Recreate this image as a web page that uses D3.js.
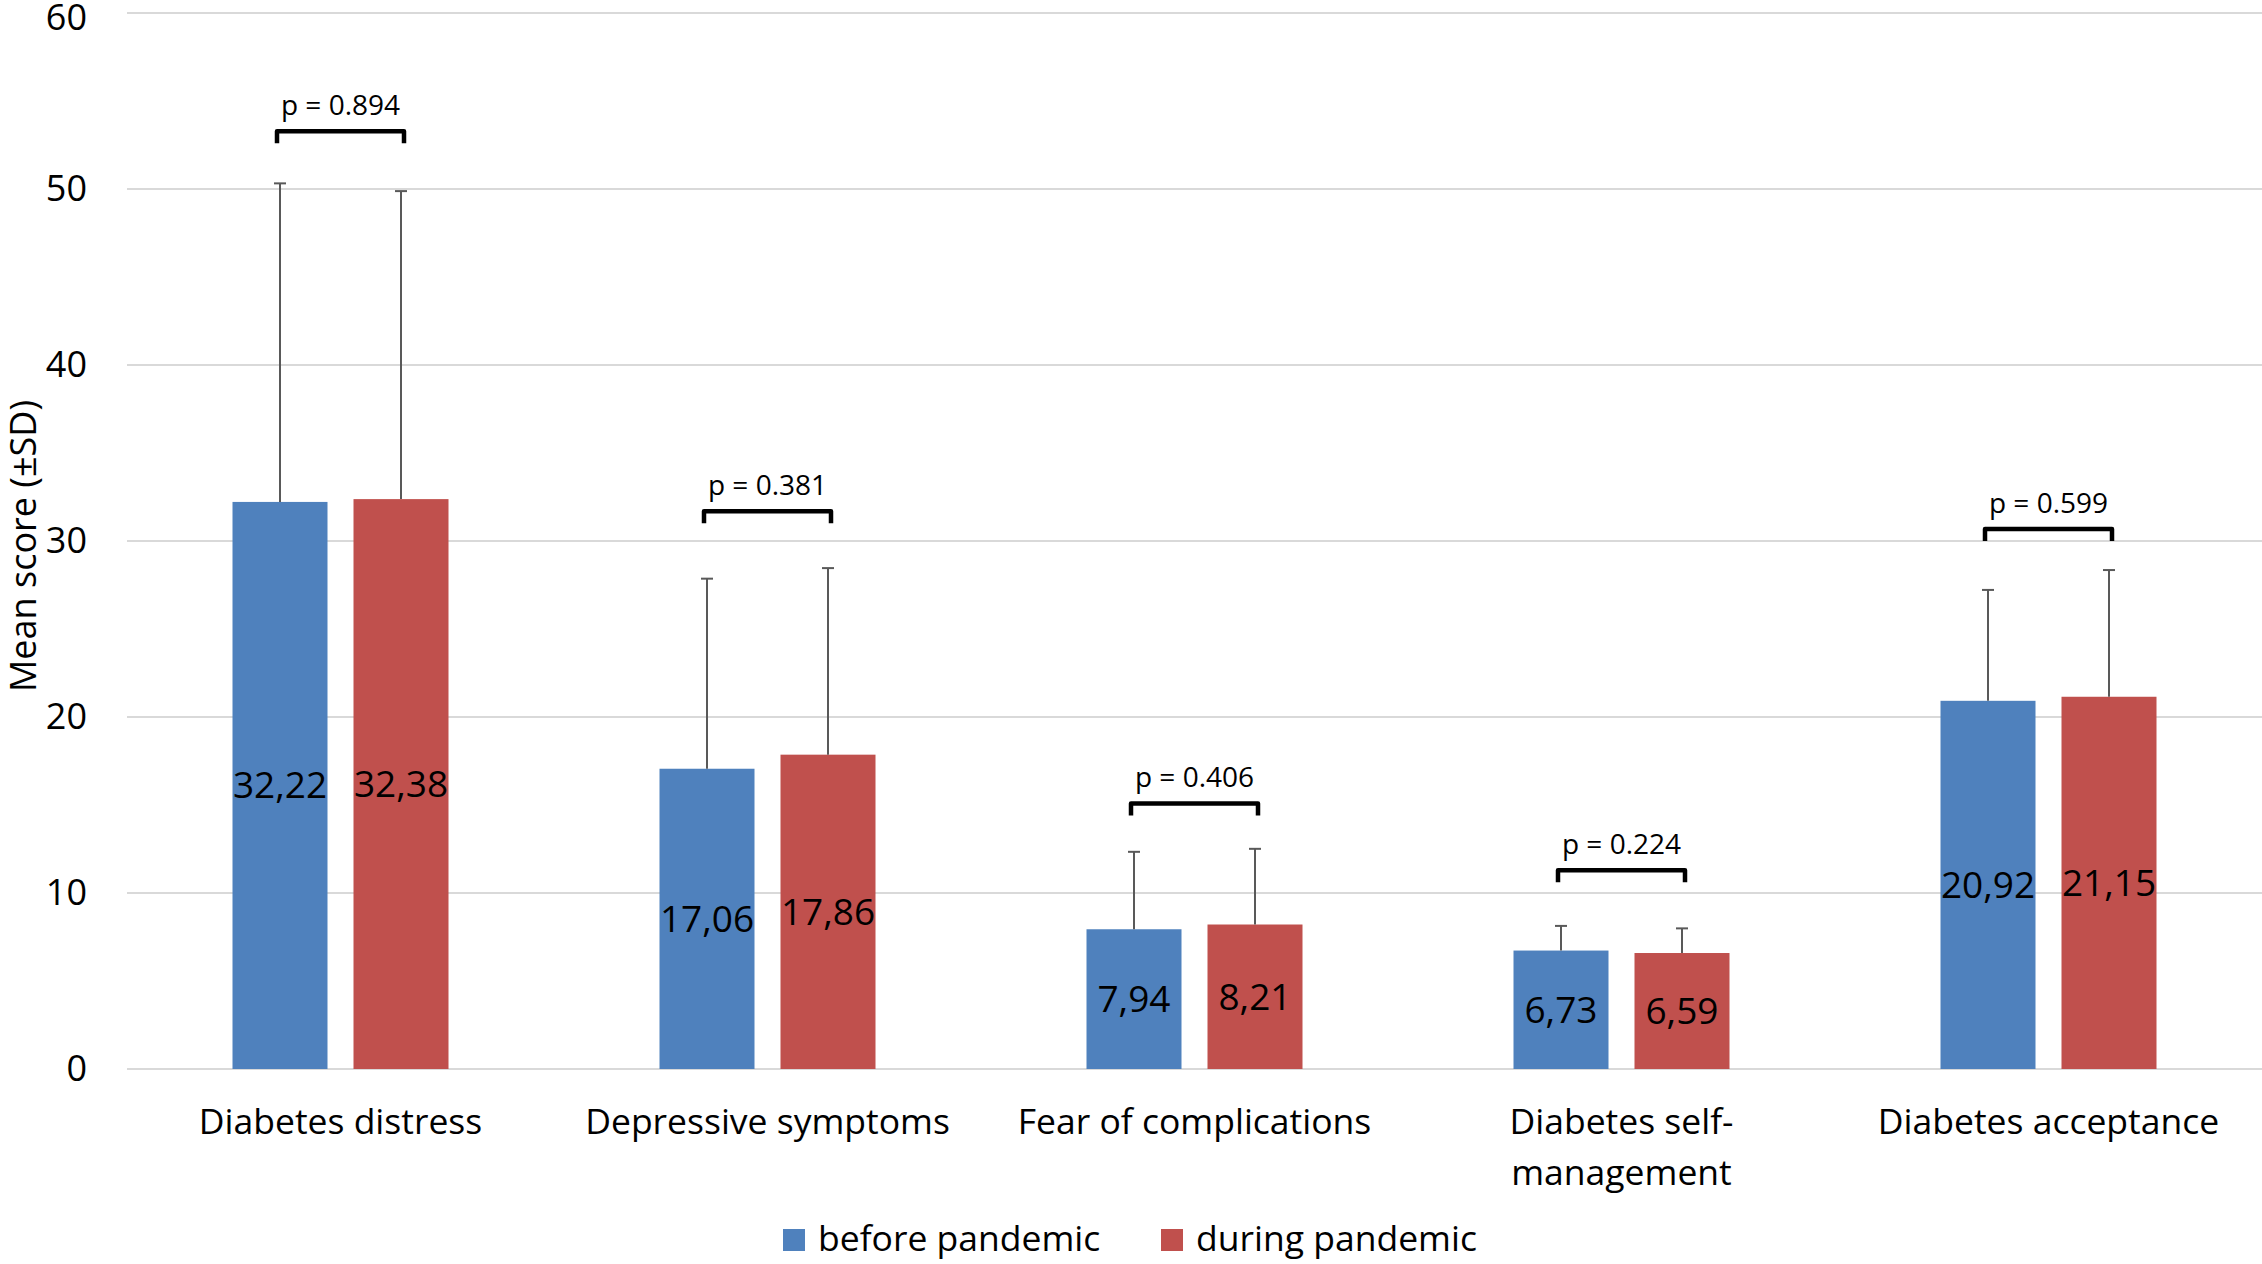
<!DOCTYPE html>
<html>
<head>
<meta charset="utf-8">
<script src="https://cdn.jsdelivr.net/npm/d3@7"></script>
<style>
  body { margin: 0; background: #fff; }
  text { font-family: "Open Sans", sans-serif; fill: #000; }
</style>
</head>
<body>
<div id="chart-container"></div>
<script>
// chart values
const categories = ["Diabetes distress", "Depressive symptoms", "Fear of complications", "Diabetes self-management", "Diabetes acceptance"];
const categoryLines = [["Diabetes distress"], ["Depressive symptoms"], ["Fear of complications"], ["Diabetes self-", "management"], ["Diabetes acceptance"]];
const seriesNames = ["before pandemic", "during pandemic"];
const beforeMeans = [32.22, 17.06, 7.94, 6.73, 20.92];
const duringMeans = [32.38, 17.86, 8.21, 6.59, 21.15];
const beforeLabels = ["32,22", "17,06", "7,94", "6,73", "20,92"];
const duringLabels = ["32,38", "17,86", "8,21", "6,59", "21,15"];
const beforeSD = [18.1, 10.8, 4.4, 1.4, 6.3];
const duringSD = [17.5, 10.6, 4.3, 1.4, 7.2];
const pValues = ["p = 0.894", "p = 0.381", "p = 0.406", "p = 0.224", "p = 0.599"];
const bracketLevels = [53.4, 31.8, 15.2, 11.4, 30.8];
const yTicks = [0, 10, 20, 30, 40, 50, 60];

const colors = ["#4F81BD", "#C0504D"];

const W = 2262, H = 1264;
const margin = {top: 13, right: 0, bottom: 195, left: 127};
const width = W - margin.left - margin.right,
      height = H - margin.top - margin.bottom;

const svg = d3.select("#chart-container").append("svg")
    .attr("width", W)
    .attr("height", H)
  .append("g")
    .attr("transform", `translate(${margin.left}, ${margin.top})`);

const x0 = d3.scaleBand()
    .domain(categories)
    .range([0, width])
    .padding(0);

// two bars of 95px with a 26px gap inside each 427px band
const step = 121, inner = 26 / step;
const outer = (x0.bandwidth() / step - 2 + inner) / 2;
const x1 = d3.scaleBand()
    .domain(seriesNames)
    .range([0, x0.bandwidth()])
    .paddingInner(inner)
    .paddingOuter(outer);

const y = d3.scaleLinear()
    .domain([0, 60])
    .range([height, 0]);

// gridlines
svg.append("g")
    .selectAll("line")
    .data(yTicks)
    .enter().append("line")
    .attr("x1", 0)
    .attr("x2", width)
    .attr("y1", d => y(d))
    .attr("y2", d => y(d))
    .attr("stroke", "#d9d9d9")
    .attr("stroke-width", 2);

// y axis tick labels
const yAxis = svg.append("g")
    .call(d3.axisLeft(y).tickValues(yTicks).tickSize(0).tickPadding(40));
yAxis.select(".domain").remove();
yAxis.selectAll("text")
    .style("font-family", "Open Sans")
    .style("font-size", "36px")
    .attr("fill", "#000");
yAxis.selectAll("text").filter(d => d === 60).attr("dy", "0.46em");

svg.append("text")
    .attr("transform", "rotate(-90)")
    .attr("x", -(y(30) + 5))
    .attr("y", -margin.left + 36)
    .attr("text-anchor", "middle")
    .style("font-size", "36px")
    .text("Mean score (±SD)");

// rows: one per category with both series
const rows = categories.map((c, i) => ({
    cat: c,
    lines: categoryLines[i],
    p: pValues[i],
    bracket: bracketLevels[i],
    bars: [
        {s: seriesNames[0], mean: beforeMeans[i], sd: beforeSD[i], label: beforeLabels[i], color: colors[0]},
        {s: seriesNames[1], mean: duringMeans[i], sd: duringSD[i], label: duringLabels[i], color: colors[1]}
    ]
}));

const groups = svg.selectAll(".group")
    .data(rows)
    .enter().append("g")
    .attr("class", "group")
    .attr("transform", d => `translate(${x0(d.cat)}, 0)`);

const barG = groups.selectAll(".bar")
    .data(d => d.bars)
    .enter().append("g")
    .attr("class", "bar");

barG.append("rect")
    .attr("x", d => x1(d.s))
    .attr("width", x1.bandwidth())
    .attr("y", d => y(d.mean))
    .attr("height", d => height - y(d.mean))
    .attr("fill", d => d.color);

// error bars (upper only)
const cx = d => x1(d.s) + x1.bandwidth() / 2;
barG.append("line")
    .attr("x1", cx).attr("x2", cx)
    .attr("y1", d => y(d.mean))
    .attr("y2", d => y(d.mean + d.sd))
    .attr("stroke", "#595959")
    .attr("stroke-width", 2);
barG.append("line")
    .attr("x1", d => cx(d) - 6).attr("x2", d => cx(d) + 6)
    .attr("y1", d => y(d.mean + d.sd))
    .attr("y2", d => y(d.mean + d.sd))
    .attr("stroke", "#595959")
    .attr("stroke-width", 2);

// value labels in the middle of each bar
barG.append("text")
    .attr("x", cx)
    .attr("y", d => y(d.mean / 2))
    .attr("dy", "0.35em")
    .attr("text-anchor", "middle")
    .style("font-size", "37px")
    .text(d => d.label);

// p-value brackets
groups.append("path")
    .attr("d", d => {
        const a = x1(seriesNames[0]) + x1.bandwidth() / 2 - 3,
              b = x1(seriesNames[1]) + x1.bandwidth() / 2 + 3,
              t = y(d.bracket) + 2;
        return `M${a},${t + 12}V${t}H${b}V${t + 12}`;
    })
    .attr("fill", "none")
    .attr("stroke", "#000")
    .attr("stroke-width", 4.5)
    .attr("stroke-linejoin", "round");

groups.append("text")
    .attr("x", x0.bandwidth() / 2)
    .attr("y", d => y(d.bracket) - 14)
    .attr("text-anchor", "middle")
    .style("font-size", "28px")
    .text(d => d.p);

// category labels
groups.append("text")
    .attr("text-anchor", "middle")
    .style("font-size", "35.5px")
    .selectAll("tspan")
    .data(d => d.lines)
    .enter().append("tspan")
    .attr("x", x0.bandwidth() / 2)
    .attr("y", (d, i) => height + 65 + i * 51)
    .text(d => d);

// legend
const legend = svg.append("g")
    .attr("transform", `translate(${783 - margin.left}, ${1240 - margin.top})`);
const legendX = [0, 378];
const item = legend.selectAll(".item")
    .data(seriesNames)
    .enter().append("g")
    .attr("class", "item")
    .attr("transform", (d, i) => `translate(${legendX[i]}, 0)`);
item.append("rect")
    .attr("x", 0)
    .attr("y", -11)
    .attr("width", 22)
    .attr("height", 22)
    .attr("fill", (d, i) => colors[i]);
item.append("text")
    .attr("x", 35)
    .attr("dy", "0.32em")
    .style("font-size", "35.5px")
    .text(d => d);
</script>
</body>
</html>
